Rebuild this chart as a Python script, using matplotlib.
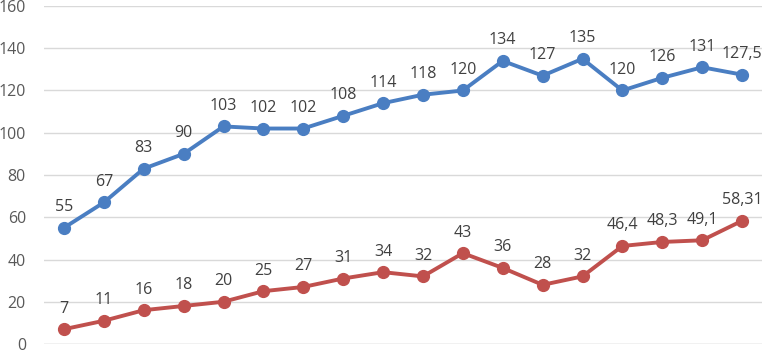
import matplotlib
matplotlib.use("Agg")
import matplotlib.pyplot as plt

blue_values = [55, 67, 83, 90, 103, 102, 102, 108, 114, 118, 120, 134, 127, 135, 120, 126, 131, 127.5]
red_values = [7, 11, 16, 18, 20, 25, 27, 31, 34, 32, 43, 36, 28, 32, 46.4, 48.3, 49.1, 58.31]
y_ticks = [0, 20, 40, 60, 80, 100, 120, 140, 160]

plt.rcParams['font.family'] = ['Open Sans', 'DejaVu Sans']

fig = plt.figure(figsize=(7.62, 3.52), dpi=100)
ax = fig.add_axes([44/762, 8/352, 1 - 44/762, 338/352])

x = list(range(len(blue_values)))

def fmt(v):
    s = ('%g' % v).replace('.', ',')
    return s

for vals, col in [(blue_values, '#4A7EC2'), (red_values, '#C0504D')]:
    ax.plot(x, vals, color=col, lw=2.8, marker='o', ms=8.5, zorder=3, clip_on=False)
    for xi, v in zip(x, vals):
        ax.annotate(fmt(v), (xi, v), xytext=(0, 9), textcoords='offset points',
                    ha='center', va='bottom', fontsize=11.5, color='#404040')

ax.set_xlim(-0.5, len(blue_values) - 0.5)
ax.set_ylim(0, 160)
ax.set_yticks(y_ticks)
ax.set_xticks([])
ax.yaxis.grid(True, color='#D9D9D9', lw=1)
ax.set_axisbelow(True)
for s in ax.spines.values():
    s.set_visible(False)
ax.tick_params(axis='y', length=0, pad=13, labelsize=11.5, labelcolor='#595959')
ax.axhline(0, color='#D9D9D9', lw=1, zorder=1)

fig.savefig('out.png', dpi=100)
